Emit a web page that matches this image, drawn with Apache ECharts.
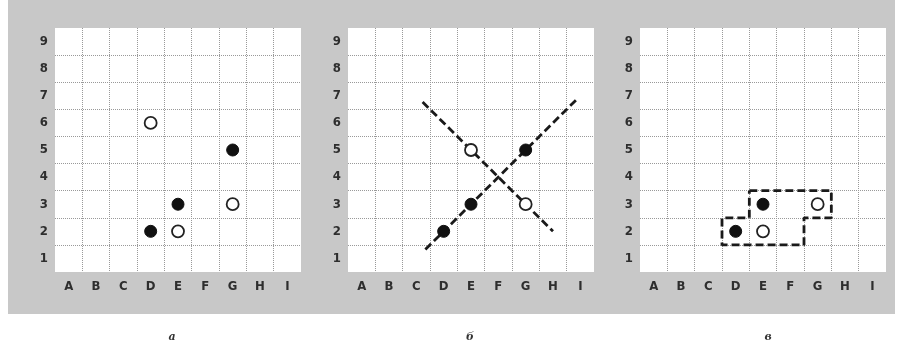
<!DOCTYPE html>
<html>
<head>
<meta charset="utf-8">
<script src="https://cdn.jsdelivr.net/npm/echarts@6/dist/echarts.min.js"></script>
<style>
html,body{margin:0;padding:0;background:#fff;}
#chart{width:898px;height:345px;}
</style>
</head>
<body>
<div id="chart"></div>
<script>
// ---- data ----
var columns = ['A','B','C','D','E','F','G','H','I'];
var rows = ['1','2','3','4','5','6','7','8','9'];
var captions = ['а','б','в'];

// panel а
var aFilled = [['D',2],['E',3],['G',5]];
var aOpen   = [['D',6],['E',2],['G',3]];
// panel б
var bFilled = [['D',2],['E',3],['G',5]];
var bOpen   = [['E',5],['G',3]];
var bLineUp   = [[2.33,1.33],[7.92,6.92]];   // column index, row value
var bLineDown = [[2.23,6.77],[7.0,2.0]];
// panel в
var cFilled = [['D',2],['E',3]];
var cOpen   = [['E',2],['G',3]];
var cOutline = [[3.5,3.5],[6.5,3.5],[6.5,2.5],[5.5,2.5],[5.5,1.5],[2.5,1.5],[2.5,2.5],[3.5,2.5],[3.5,3.5]];

// ---- layout ----
var gridLefts = [55, 348, 640];
var gridW = 246, gridTop = 28, gridH = 244;
var captionX = [172, 470, 768];

function toXY(list){ return list.map(function(p){ return [columns.indexOf(p[0]), p[1]]; }); }

var grids = [], xAxes = [], yAxes = [], series = [];
var labelFont = {fontFamily:'"DejaVu Sans Condensed", "Liberation Sans", sans-serif', fontWeight:'bold', fontSize:13, color:'#2e2e2e'};
var split = {show:true, lineStyle:{color:'#999999', type:'dotted', width:1}};

gridLefts.forEach(function(l, i){
  grids.push({left:l, top:gridTop, width:gridW, height:gridH, show:true, backgroundColor:'#ffffff', borderWidth:0});
  xAxes.push({type:'category', gridIndex:i, data:columns, boundaryGap:true,
    axisLine:{show:false}, axisTick:{show:false},
    axisLabel:Object.assign({margin:8}, labelFont),
    splitLine:Object.assign({showMinLine:false, showMaxLine:false}, split)});
  yAxes.push({type:'category', gridIndex:i, data:rows, boundaryGap:true,
    axisLine:{show:false}, axisTick:{show:false},
    axisLabel:Object.assign({margin:7}, labelFont),
    splitLine:Object.assign({showMinLine:false, showMaxLine:false}, split)});
  xAxes.push({type:'value', gridIndex:i, min:-0.5, max:8.5, show:false});
  yAxes.push({type:'value', gridIndex:i, min:0.5, max:9.5, show:false});
});

function vx(i){ return i*2 + 1; }

function filled(i, data){
  return {type:'scatter', xAxisIndex:vx(i), yAxisIndex:vx(i), data:toXY(data), symbol:'circle', symbolSize:12,
    itemStyle:{color:'#111111', borderColor:'#111111', borderWidth:1, opacity:1}, z:5, silent:true};
}
function open(i, data){
  return {type:'scatter', xAxisIndex:vx(i), yAxisIndex:vx(i), data:toXY(data), symbol:'circle', symbolSize:12,
    itemStyle:{color:'#ffffff', borderColor:'#222222', borderWidth:1.8, opacity:1}, z:5, silent:true};
}
function dashed(i, data){
  return {type:'line', xAxisIndex:vx(i), yAxisIndex:vx(i), data:data, symbol:'none', z:3, silent:true,
    lineStyle:{color:'#1a1a1a', width:2.8, type:[8,4]}};
}

series.push(filled(0, aFilled), open(0, aOpen));
series.push(dashed(1, bLineUp), dashed(1, bLineDown), filled(1, bFilled), open(1, bOpen));
series.push(dashed(2, cOutline), filled(2, cFilled), open(2, cOpen));

var graphics = [{type:'rect', z:-100, shape:{x:8, y:0, width:887, height:314}, style:{fill:'#c8c8c8'}}];
captions.forEach(function(c, i){
  graphics.push({type:'text', x:captionX[i], y:337, style:{text:c, font:'italic bold 11px "DejaVu Serif"', fill:'#333', textAlign:'center', textVerticalAlign:'middle'}});
});

var chart = echarts.init(document.getElementById('chart'), null, {renderer:'canvas'});
chart.setOption({
  animation:false,
  backgroundColor:'#ffffff',
  graphic:graphics,
  grid:grids,
  xAxis:xAxes,
  yAxis:yAxes,
  series:series
});
</script>
</body>
</html>
